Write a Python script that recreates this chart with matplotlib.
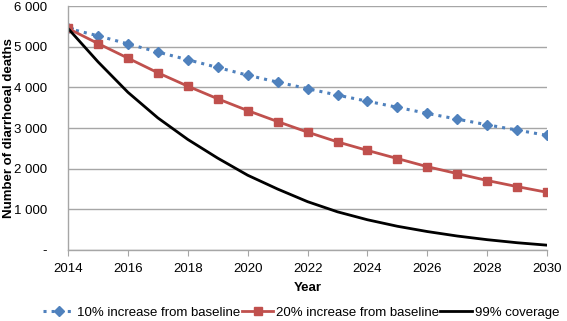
import matplotlib
matplotlib.use('Agg')
import matplotlib.pyplot as plt
from matplotlib.ticker import FuncFormatter

plt.rcParams['font.family'] = ['Liberation Sans', 'DejaVu Sans']

years = list(range(2014, 2031))
inc10 = [5450, 5270, 5070, 4870, 4680, 4490, 4300, 4130, 3970, 3810,
         3660, 3510, 3360, 3220, 3080, 2950, 2820]
inc20 = [5450, 5080, 4720, 4360, 4030, 3720, 3430, 3160, 2900, 2660,
         2450, 2250, 2050, 1880, 1710, 1560, 1420]
cov99 = [5450, 4630, 3880, 3250, 2720, 2260, 1840, 1500, 1190, 940,
         745, 585, 455, 345, 255, 180, 120]


def fmt(v, pos):
    if v == 0:
        return '-'
    return '{:,.0f}'.format(v).replace(',', ' ')


fig = plt.figure(figsize=(5.67, 3.21), dpi=100)
ax = fig.add_axes([0.12, 0.221, 0.845, 0.76])

ax.plot(years, inc10, color='#4F81BD', linestyle=':', linewidth=2.2,
        marker='D', markersize=5.5, label='10% increase from baseline')
ax.plot(years, inc20, color='#C0504D', linestyle='-', linewidth=2,
        marker='s', markersize=6, label='20% increase from baseline')
ax.plot(years, cov99, color='black', linewidth=2, label='99% coverage')

ax.set_xlim(2014, 2030)
ax.set_ylim(0, 6000)
ax.set_xticks(range(2014, 2031, 2))
ax.set_yticks(range(0, 6001, 1000))
ax.yaxis.set_major_formatter(FuncFormatter(fmt))
ax.grid(axis='y', color='#A6A6A6', linewidth=1)
ax.set_axisbelow(True)

for s in ['top', 'right']:
    ax.spines[s].set_visible(False)
for s in ['left', 'bottom']:
    ax.spines[s].set_color('#A6A6A6')
    ax.spines[s].set_linewidth(1)
ax.tick_params(axis='x', colors='#A6A6A6', labelcolor='black', length=4,
               direction='out', labelsize=9.5, pad=5)
ax.tick_params(axis='y', length=0, labelsize=9.5, pad=15)

ax.set_xlabel('Year', fontweight='bold', fontsize=9.5, labelpad=5)
ax.set_ylabel('Number of diarrhoeal deaths', fontweight='bold', fontsize=9.5)
ax.yaxis.set_label_coords(-0.11, 0.5)

fig.legend(*ax.get_legend_handles_labels(), loc='center',
           bbox_to_anchor=(0.531, 0.026), ncol=3, frameon=False,
           fontsize=9.5, handlelength=2.4, columnspacing=0.1,
           handletextpad=0.2, borderpad=0, borderaxespad=0)

fig.savefig('out.png', dpi=100)
